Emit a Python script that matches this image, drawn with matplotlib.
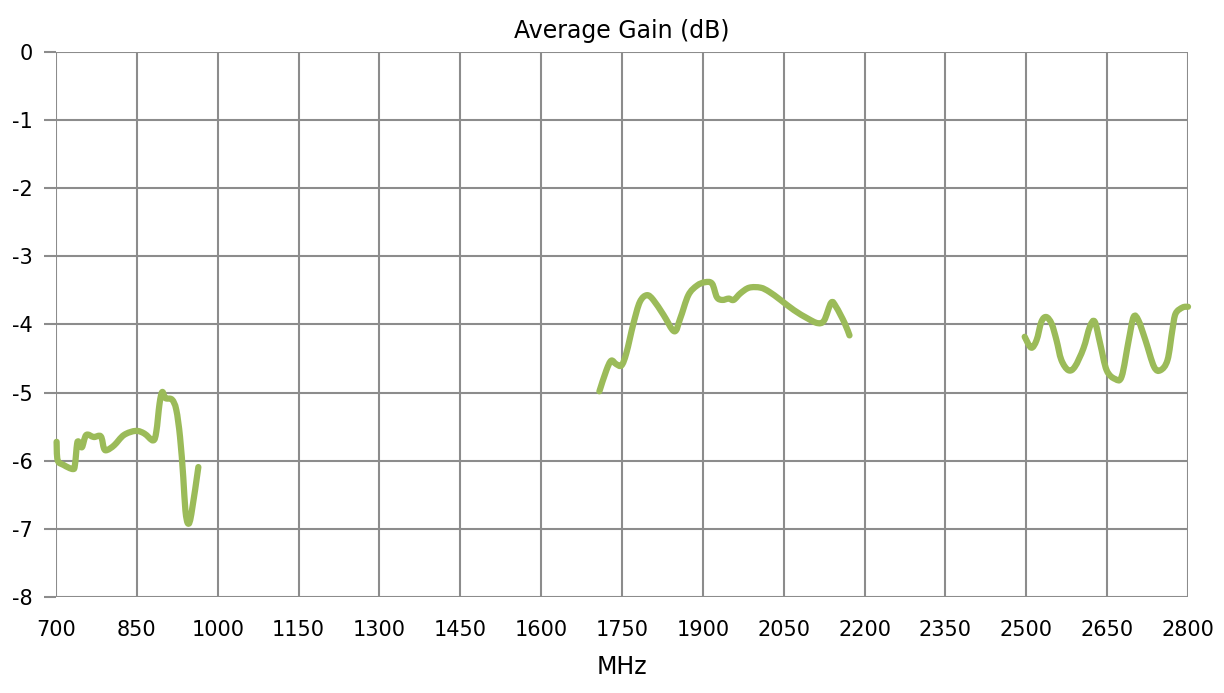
import numpy as np
import matplotlib.pyplot as plt
from matplotlib.path import Path
from matplotlib.patches import PathPatch

plt.rcParams["axes.unicode_minus"] = False

# band 1 (low band)
low_mhz = [701, 703, 714, 731, 735, 739, 742, 748, 756, 770, 783, 789, 795, 808,
           826, 848, 864, 880, 886, 892, 897, 903, 915, 923, 930, 936, 940, 945,
           951, 964]
low_gain = [-5.72, -5.99, -6.06, -6.12, -6.06, -5.75, -5.72, -5.80, -5.62, -5.65,
            -5.64, -5.82, -5.84, -5.77, -5.62, -5.56, -5.60, -5.70, -5.57, -5.16,
            -4.99, -5.08, -5.10, -5.25, -5.65, -6.24, -6.73, -6.92, -6.78, -6.09]

# band 2 (mid band)
mid_mhz = [1708, 1721, 1730, 1739, 1749, 1758, 1771, 1783, 1796, 1808, 1827, 1847,
           1858, 1873, 1889, 1904, 1917, 1926, 1936, 1948, 1957, 1970, 1986, 2007,
           2023, 2044, 2069, 2094, 2113, 2125, 2138, 2147, 2163, 2172]
mid_gain = [-4.98, -4.67, -4.53, -4.58, -4.60, -4.42, -3.99, -3.67, -3.57, -3.64,
            -3.86, -4.10, -3.91, -3.57, -3.43, -3.38, -3.40, -3.60, -3.64, -3.62,
            -3.64, -3.54, -3.46, -3.46, -3.52, -3.64, -3.79, -3.91, -3.98, -3.94,
            -3.68, -3.74, -3.98, -4.16]

# band 3 (high band)
high_mhz = [2497, 2509, 2519, 2528, 2537, 2547, 2556, 2565, 2578, 2590, 2606, 2618,
            2627, 2637, 2649, 2665, 2677, 2690, 2699, 2708, 2721, 2737, 2749, 2762,
            2771, 2777, 2790, 2800]
high_gain = [-4.18, -4.34, -4.23, -3.96, -3.89, -3.99, -4.23, -4.52, -4.67, -4.62,
             -4.35, -4.03, -3.96, -4.28, -4.67, -4.80, -4.76, -4.23, -3.89, -3.94,
             -4.23, -4.62, -4.67, -4.52, -4.08, -3.84, -3.75, -3.74]

x_ticks = np.arange(700, 2801, 150)
y_ticks = np.arange(-8, 1, 1)

line_color = "#9BBB59"
grid_color = "#8C8C8C"


def smooth_path(xs, ys):
    # Excel-style "smoothed line": cubic bezier through the points
    p = np.column_stack([xs, ys]).astype(float)
    n = len(p)
    verts = [p[0]]
    codes = [Path.MOVETO]
    for i in range(n - 1):
        p0 = p[i - 1] if i > 0 else p[i]
        p3 = p[i + 2] if i + 2 < n else p[i + 1]
        c1 = p[i] + (p[i + 1] - p0) / 6
        c2 = p[i + 1] - (p3 - p[i]) / 6
        verts += [c1, c2, p[i + 1]]
        codes += [Path.CURVE4] * 3
    return Path(verts, codes)


fig = plt.figure(figsize=(12.24, 6.93), dpi=100)
ax = fig.add_axes([0.0458, 0.1381, 0.9248, 0.7873])

for xs, ys in [(low_mhz, low_gain), (mid_mhz, mid_gain), (high_mhz, high_gain)]:
    ax.add_patch(PathPatch(smooth_path(xs, ys), fill=False, edgecolor=line_color,
                           linewidth=4.5, joinstyle="round", capstyle="round",
                           zorder=3, clip_on=False))

ax.set_xlim(700, 2800)
ax.set_ylim(-8, 0)
ax.set_xticks(x_ticks)
ax.set_yticks(y_ticks)
ax.grid(True, color=grid_color, linewidth=1.5)
for side in ["top", "right", "left", "bottom"]:
    ax.spines[side].set_visible(False)

ax.tick_params(axis="y", length=9, width=1.5, color=grid_color, pad=8, labelsize=15)
ax.tick_params(axis="x", length=0, pad=16, labelsize=15)

ax.set_title("Average Gain (dB)", fontsize=17, pad=10)
ax.set_xlabel("MHz", fontsize=17, labelpad=11)

fig.savefig("out.png", dpi=100)
